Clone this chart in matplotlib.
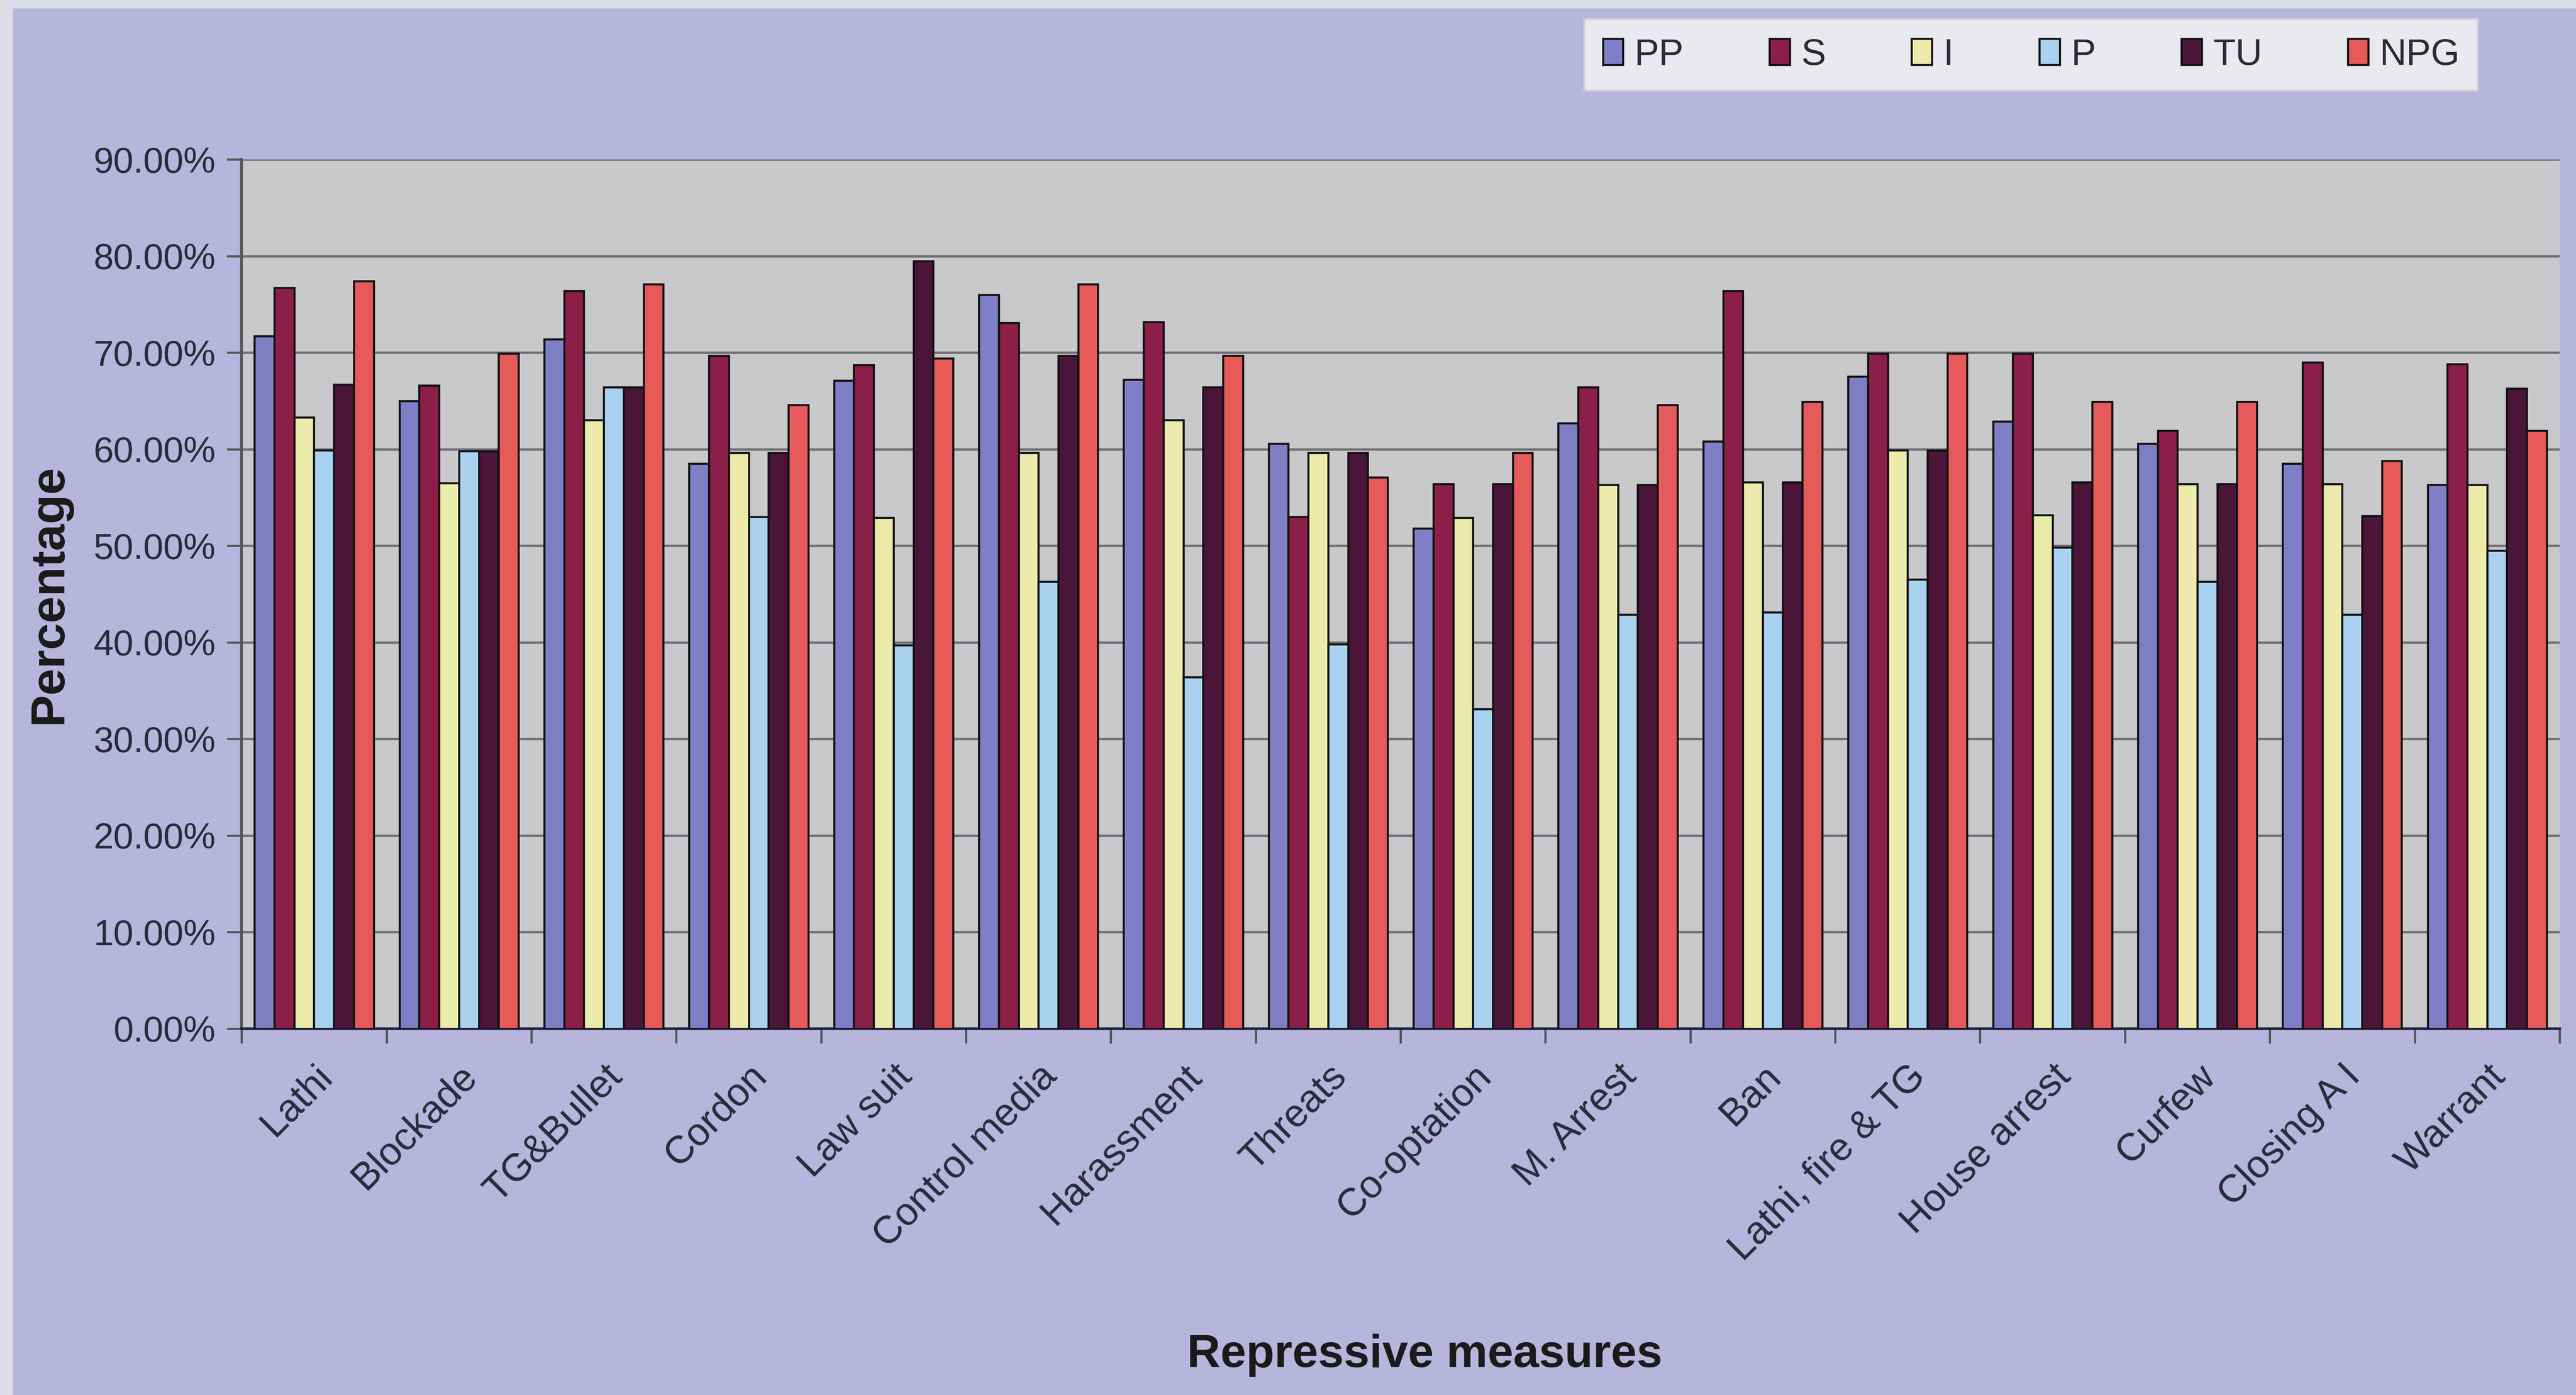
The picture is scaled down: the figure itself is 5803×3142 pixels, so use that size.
import matplotlib.pyplot as plt
import matplotlib.ticker as mticker
import numpy as np
from matplotlib.patches import Rectangle

plt.rcParams['font.family'] = ['Liberation Sans', 'DejaVu Sans']

# Share of respondents (%) reporting each repressive measure, by group
measures = ['Lathi', 'Blockade', 'TG&Bullet', 'Cordon', 'Law suit', 'Control media',
            'Harassment', 'Threats', 'Co-optation', 'M. Arrest', 'Ban',
            'Lathi, fire & TG', 'House arrest', 'Curfew', 'Closing A I', 'Warrant']
groups = ['PP', 'S', 'I', 'P', 'TU', 'NPG']

pp = [71.7, 65.0, 71.4, 58.5, 67.1, 76.0, 67.2, 60.6, 51.8, 62.7, 60.8, 67.5, 62.9, 60.6, 58.5, 56.3]
s = [76.7, 66.6, 76.4, 69.7, 68.7, 73.1, 73.2, 53.0, 56.4, 66.4, 76.4, 69.9, 69.9, 61.9, 69.0, 68.8]
i_ = [63.3, 56.5, 63.0, 59.6, 52.9, 59.6, 63.0, 59.6, 52.9, 56.3, 56.6, 59.9, 53.2, 56.4, 56.4, 56.3]
p = [59.9, 59.8, 66.4, 53.0, 39.7, 46.3, 36.4, 39.8, 33.1, 42.9, 43.1, 46.5, 49.8, 46.3, 42.9, 49.5]
tu = [66.7, 59.8, 66.4, 59.6, 79.5, 69.7, 66.4, 59.6, 56.4, 56.3, 56.6, 59.9, 56.6, 56.4, 53.1, 66.3]
npg = [77.4, 69.9, 77.1, 64.6, 69.4, 77.1, 69.7, 57.1, 59.6, 64.6, 64.9, 69.9, 64.9, 64.9, 58.8, 61.9]
series = [pp, s, i_, p, tu, npg]

colors = ['#7f7fc6', '#8c1f48', '#ecebac', '#a9d2f0', '#4a1538', '#e65a5a']
bg = '#b8b5dc'

fig = plt.figure(figsize=(5803 / 300, 3142 / 300), dpi=300, facecolor=bg)
ax = fig.add_axes([0.0938, 0.2627, 0.8998, 0.623])
ax.set_facecolor('#c9c9cc')

# light paper edge along the left and top
fig.patches.append(Rectangle((0, 0), 0.005, 1, transform=fig.transFigure,
                             facecolor='#dcdce6', edgecolor='none', zorder=0))
fig.patches.append(Rectangle((0, 0.994), 1, 0.006, transform=fig.transFigure,
                             facecolor='#dcdce6', edgecolor='none', zorder=0))

x = np.arange(len(measures))
w = 0.137
for k, (name, vals, c) in enumerate(zip(groups, series, colors)):
    ax.bar(x + (k - 2.5) * w, vals, w, color=c, edgecolor='#111111',
           linewidth=1.1, label=name, zorder=3)

ax.set_xlim(-0.5, len(measures) - 0.5)
ax.set_ylim(0, 90)
ax.yaxis.set_major_locator(mticker.MultipleLocator(10))
ax.yaxis.set_major_formatter(mticker.FuncFormatter(lambda v, _: f'{v:.2f}%'))
ax.grid(axis='y', color='#6e6e74', linewidth=1.3, zorder=1)

for side in ['top', 'right']:
    ax.spines[side].set_visible(False)
ax.spines['left'].set_color('#555555')
ax.spines['left'].set_linewidth(1.5)
ax.spines['bottom'].set_color('#222244')
ax.spines['bottom'].set_linewidth(1.5)

ax.set_xticks(x)
ax.set_xticklabels(measures, rotation=45, ha='right', rotation_mode='anchor',
                   fontsize=21, color='#2a2a3a')
ax.set_xticks(np.arange(-0.5, len(measures)), minor=True)
ax.tick_params(axis='x', which='major', length=0, pad=16)
ax.tick_params(axis='x', which='minor', length=8, width=1.2, color='#555555')
ax.tick_params(axis='y', length=8, width=1.2, color='#555555', labelsize=19.5,
               labelcolor='#2a2a3a', pad=6)

ax.set_ylabel('Percentage', fontsize=26, fontweight='bold', labelpad=12, color='#1a1a1a')
fig.text(0.553, 0.02, 'Repressive measures', ha='center', va='baseline',
         fontsize=25, fontweight='bold', color='#1a1a1a')

leg = ax.legend(loc='lower left', bbox_to_anchor=(0.615, 0.935, 0.347, 0.044),
                bbox_transform=fig.transFigure, mode='expand', ncol=6,
                fontsize=20, frameon=True, fancybox=False, handlelength=0.55,
                handleheight=0.7, handletextpad=0.3, borderaxespad=0, borderpad=0.5)
leg.get_frame().set_facecolor('#e9e9f0')
leg.get_frame().set_edgecolor('#d0d0dc')
leg.get_frame().set_alpha(1)
for t in leg.get_texts():
    t.set_color('#2a2a3a')

fig.savefig('out.png', dpi=300, facecolor=bg)
